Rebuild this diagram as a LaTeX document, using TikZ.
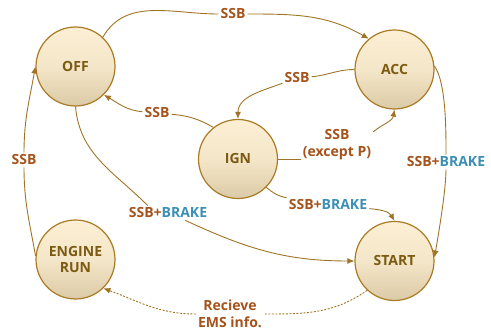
\documentclass[tikz,border=0pt]{standalone}
\usepackage{fontspec}
\setmainfont{Open Sans}
\usetikzlibrary{arrows.meta}
\definecolor{ringc}{HTML}{A97B24}
\definecolor{wirec}{HTML}{A07426}
\definecolor{modetxt}{HTML}{7B5A12}
\definecolor{ssbc}{HTML}{A5521B}
\definecolor{brakec}{HTML}{3B8FB5}
\definecolor{fillt}{HTML}{FDEFD4}
\definecolor{fillm}{HTML}{F4E6C8}
\definecolor{fillb}{HTML}{DBCAA6}
\newcommand{\brk}{\textcolor{brakec}{BRAKE}}% second key in a transition label

\begin{document}
\begin{tikzpicture}[x=1pt,y=1pt,
  mode/.style={circle, draw=ringc, line width=1.2pt, minimum size=79pt, inner sep=0pt,
    top color=fillt, bottom color=fillb, middle color=fillm,
    text=modetxt, align=center, font=\fontsize{14}{16}\selectfont\bfseries},
  lbl/.style={text=ssbc, align=center, inner sep=2pt, font=\fontsize{14}{17}\selectfont\bfseries},
  wire/.style={draw=wirec, line width=0.9pt},
  go/.style={wire, -{Latex[length=7pt,width=6pt]}}]
  \useasboundingbox (0,0) rectangle (491,-334);

  % states
  \node[mode] (off)   at (75.5,-66.5)  {OFF};
  \node[mode] (acc)   at (394.5,-69.5) {ACC};
  \node[mode] (ign)   at (238,-159)    {IGN};
  \node[mode] (run)   at (75.5,-259.5) {ENGINE\\RUN};
  \node[mode] (start) at (394.5,-261)  {START};

  % transition labels
  \node[lbl] (l1) at (233,-14)  {SSB};
  \node[lbl] (l2) at (297,-78)  {SSB};
  \node[lbl] (l3) at (337,-145) {SSB\\(except P)};
  \node[lbl] (l4) at (157,-113) {SSB};
  \node[lbl] (l5) at (168,-213) {SSB+\brk};
  \node[lbl] (l6) at (328,-205) {SSB+\brk};
  \node[lbl] (l7) at (446,-162) {SSB+\brk};
  \node[lbl] (l8) at (24,-160)  {SSB};
  \node[lbl] (l9) at (230,-314) {Recieve\\EMS info.};

  % transitions
  \draw[wire] (off.47) to[out=60,in=180] (l1);
  \draw[go] (l1) to[out=0,in=150] (acc.130);
  \draw[wire] (acc.180) to[out=180,in=5] (l2);
  \draw[go] (l2) to[out=200,in=90] (ign.90);
  \draw[wire] (ign.east) -- (l3.west |- ign.east);
  \draw[go] (l3.20) to[out=40,in=-100] (acc.-90);
  \draw[wire] (ign.128) to[out=150,in=-5] (l4);
  \draw[go] (l4) to[out=175,in=-30] (off.-45);
  \draw[wire] (off.south) to[out=-85,in=135] (l5.160);
  \draw[go] (l5.-23) to[out=-25,in=180] (start.west);
  \draw[wire] (ign.-45) to[out=-40,in=170] (l6);
  \draw[go] (l6) to[out=-5,in=120] (start.north);
  \draw[wire] (acc.5) to[out=-55,in=90,looseness=0.6] (l7);
  \draw[go] (l7) to[out=-90,in=80,looseness=0.6] (start.5);
  \draw[wire] (run.175) to[out=100,in=-90] (l8);
  \draw[go] (l8) to[out=90,in=-100] (off.180);
  \draw[wire, dash pattern=on 2pt off 1.5pt] (start.-133) to[out=-145,in=0] (l9);
  \draw[go, dash pattern=on 2pt off 1.5pt] (l9) to[out=180,in=-20] (run.-46);
\end{tikzpicture}
\end{document}
